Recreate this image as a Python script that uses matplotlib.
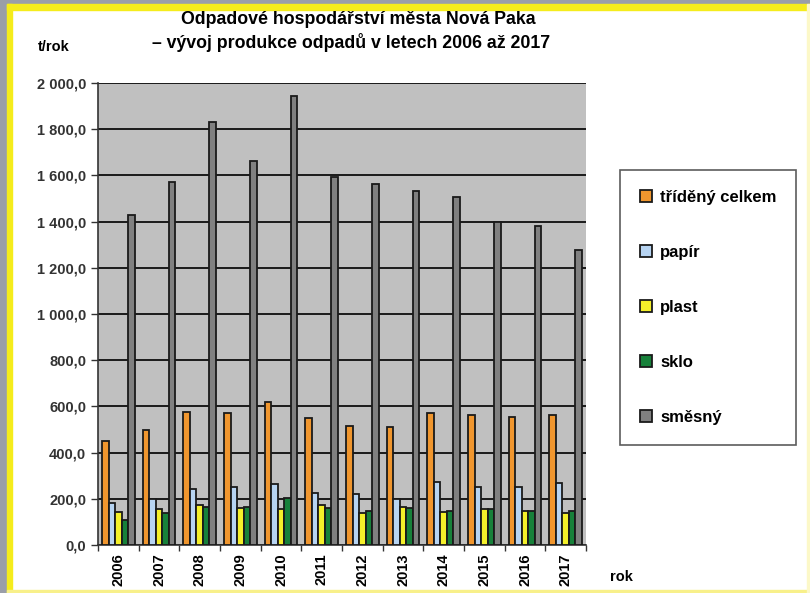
import numpy as np
import matplotlib
matplotlib.use("Agg")
from matplotlib import pyplot as plt
from matplotlib.patches import Rectangle
from matplotlib.ticker import FuncFormatter, FixedLocator

years = ['2006', '2007', '2008', '2009', '2010', '2011',
         '2012', '2013', '2014', '2015', '2016', '2017']
trideny = [450, 497, 575, 570, 618, 549, 514, 510, 570, 562, 553, 562]
papir = [181, 199, 242, 250, 264, 225, 220, 199, 272, 250, 250, 268]
plast = [143, 155, 173, 160, 155, 173, 140, 164, 143, 155, 147, 138]
sklo = [108, 138, 164, 164, 203, 160, 147, 160, 147, 155, 147, 147]
smesny = [1430, 1573, 1832, 1662, 1944, 1594, 1564, 1534, 1508, 1400, 1379, 1278]

series = [
    ('tříděný celkem', trideny, '#f0962e'),
    ('papír', papir, '#b7d4f2'),
    ('plast', plast, '#f4f02a'),
    ('sklo', sklo, '#17813a'),
    ('směsný', smesny, '#808080'),
]

plt.rcParams['font.family'] = ['Liberation Sans Narrow', 'Liberation Sans', 'DejaVu Sans']

fig = plt.figure(figsize=(8.1, 5.93), dpi=100)
fig.patch.set_facecolor('white')

# frame around the picture
W, H = 810.0, 593.0
fig.add_artist(Rectangle((0, 0), 7 / W, 1, transform=fig.transFigure, color='#9a9ea8', zorder=0))
fig.add_artist(Rectangle((0, 1 - 4 / H), 1, 4 / H, transform=fig.transFigure, color='#9a9ea8', zorder=0))
fig.add_artist(Rectangle((7 / W, 0), 5 / W, 1 - 4 / H, transform=fig.transFigure, color='#f5ec1c', zorder=0))
fig.add_artist(Rectangle((7 / W, 1 - 10 / H), 1 - 7 / W, 6 / H, transform=fig.transFigure, color='#f5ec1c', zorder=0))
fig.add_artist(Rectangle((7 / W, 0), 1 - 7 / W, 3 / H, transform=fig.transFigure, color='#f8f08a', zorder=0))
fig.add_artist(Rectangle((1 - 3 / W, 0), 3 / W, 1 - 4 / H, transform=fig.transFigure, color='#fcf8c8', zorder=0))

ax = fig.add_axes([98 / W, 48 / H, 488 / W, 462 / H])
ax.set_facecolor('#c0c0c0')

x = np.arange(len(years))
bw = 0.16
for i, (name, vals, col) in enumerate(series):
    ax.bar(x - 0.32 + i * bw, vals, width=bw, color=col, edgecolor='#1a1a1a',
           linewidth=1.3, label=name, zorder=3)

ax.set_xlim(-0.5, len(years) - 0.5)
ax.set_ylim(0, 2000)
ax.set_yticks(np.arange(0, 2001, 200))
ax.yaxis.set_major_formatter(FuncFormatter(lambda v, p: f'{v:,.1f}'.replace(',', ' ').replace('.', ',')))
ax.grid(axis='y', color='#1a1a1a', linewidth=1.4, zorder=1)

ax.set_xticks(x)
ax.set_xticklabels(years, rotation=90, fontsize=10.5, fontweight='bold')
ax.xaxis.set_minor_locator(FixedLocator(np.arange(-0.5, len(years), 1.0)))
ax.tick_params(axis='x', which='major', length=0, pad=6)
ax.tick_params(axis='x', which='minor', length=4, width=1, color='#333333')
ax.tick_params(axis='y', length=5, width=1, labelsize=10.5, color='#333333')
for lab in ax.get_yticklabels():
    lab.set_fontweight('bold')
    lab.set_color('#333333')

for s in ['top', 'right']:
    ax.spines[s].set_visible(False)
ax.spines['left'].set_color('#333333')
ax.spines['bottom'].set_color('#333333')
ax.spines['left'].set_linewidth(1.2)
ax.spines['bottom'].set_linewidth(1.2)

fig.text(358 / W, 1 - 20 / H, 'Odpadové hospodářství města Nová Paka',
         ha='center', va='center', fontsize=12.8, fontweight='bold')
fig.text(351 / W, 1 - 43 / H, '– vývoj produkce odpadů v letech 2006 až 2017',
         ha='center', va='center', fontsize=12.8, fontweight='bold')
fig.text(38 / W, 1 - 47 / H, 't/rok', ha='left', va='center', fontsize=10.5, fontweight='bold')
fig.text(610 / W, 1 - 577 / H, 'rok', ha='left', va='center', fontsize=10.5, fontweight='bold')

leg = fig.legend(loc='upper left', bbox_to_anchor=(620 / W, 1 - 170 / H), ncol=1,
                 frameon=True, fancybox=False, edgecolor='#333333', borderaxespad=0,
                 handlelength=0.7, handleheight=0.7, handletextpad=0.5,
                 labelspacing=2.4, borderpad=1.2, prop={'weight': 'bold', 'size': 12})
leg.get_frame().set_linewidth(1.2)

fig.savefig('out.png', dpi=100)
